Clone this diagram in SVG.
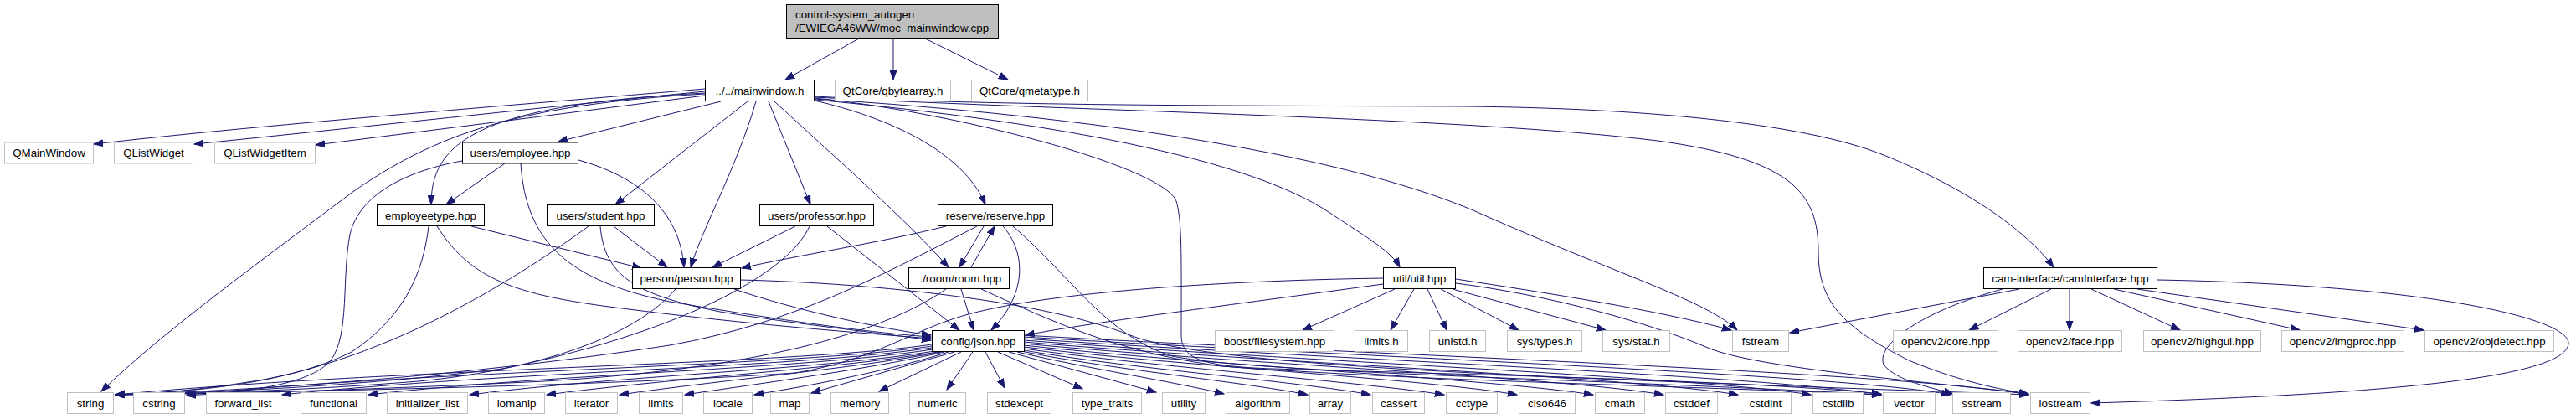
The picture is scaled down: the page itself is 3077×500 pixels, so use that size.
<svg xmlns="http://www.w3.org/2000/svg" width="3077" height="500" viewBox="0 0 3077 500">
<style>
text{font-family:"Liberation Sans",Arial,sans-serif;font-size:13.33px;fill:#000;text-anchor:middle}
.d rect{fill:#fff;stroke:#000;stroke-width:1}
.x rect{fill:#fff;stroke:#bfbfbf;stroke-width:1}
#edges path{fill:none;stroke:#191970;stroke-width:1;marker-end:url(#ah)}
</style>
<defs>
<marker id="ah" markerUnits="userSpaceOnUse" markerWidth="12" markerHeight="9" refX="11" refY="4.5" orient="auto">
<path d="M0,0.5 L11,4.5 L0,8.5 z" fill="#191970" stroke="#191970" stroke-width="1"/>
</marker>
</defs>
<rect width="3077" height="500" fill="#fff"/>
<g id="edges">
<path d="M1026,46 L938,95"/>
<path d="M1067,46 L1067,95"/>
<path d="M1105,46 L1204,95"/>
<path d="M842,106 C620,125 300,150 112,172"/>
<path d="M842,109 C650,128 420,153 232,172"/>
<path d="M842,114 C700,132 520,155 377,173"/>
<path d="M861,121 L667,169"/>
<path d="M842,111 C570,125 515,170 515,244"/>
<path d="M842,112 C620,125 520,160 420,230 C300,320 190,400 121,467"/>
<path d="M893,121 L735,244"/>
<path d="M903,121 C880,200 840,270 825,319"/>
<path d="M918,121 L968,244"/>
<path d="M925,121 C1000,190 1080,260 1133,319"/>
<path d="M973,120 C1060,140 1150,180 1177,244"/>
<path d="M973,119 C1200,140 1480,180 1590,255 C1635,285 1662,300 1672,319"/>
<path d="M973,118 C1300,138 1620,185 1780,260 C1940,330 2040,360 2075,394"/>
<path d="M973,117 C1150,135 1390,200 1405,240 C1412,265 1411,300 1411,400 C1411,430 1440,437 1520,440 C1800,448 2100,455 2247,470"/>
<path d="M973,115 C1200,127 1500,126 1750,127 C1950,129 2150,145 2250,185 C2350,225 2420,275 2453,319"/>
<path d="M973,116 C1300,133 1750,140 1980,168 C2140,190 2172,230 2172,300 C2172,360 2200,390 2280,430 C2340,455 2390,465 2423,470"/>
<path d="M603,195 L533,244"/>
<path d="M691,191 C760,210 812,250 817,319"/>
<path d="M622,195 C628,290 680,335 800,360 C950,385 1050,398 1112,402"/>
<path d="M552,192 C480,205 428,235 418,280 C408,330 418,400 395,430 C370,460 290,468 223,472"/>
<path d="M563,270 L766,320"/>
<path d="M512,270 C505,330 480,380 420,420 C340,460 220,468 138,471"/>
<path d="M522,270 C560,330 610,350 720,365 C870,385 1000,395 1112,404"/>
<path d="M733,270 L797,319"/>
<path d="M717,270 C722,330 760,352 860,372 C960,388 1050,397 1112,406"/>
<path d="M703,270 C620,330 480,420 320,452 C240,466 180,470 138,471"/>
<path d="M950,270 L851,319"/>
<path d="M967,270 C940,330 800,400 600,440 C420,462 240,469 138,471"/>
<path d="M988,270 L1146,394"/>
<path d="M1130,270 C1050,290 950,305 886,320"/>
<path d="M1175,270 L1146,319"/>
<path d="M1160,319 L1188,270"/>
<path d="M1167,270 C1050,330 950,385 800,412 C550,450 300,466 138,471"/>
<path d="M1198,270 C1225,300 1228,350 1184,394"/>
<path d="M1210,270 C1280,330 1320,400 1400,425 C1500,445 1900,452 2247,471"/>
<path d="M1148,345 L1163,394"/>
<path d="M1130,345 C1050,400 900,440 650,455 C400,467 250,470 138,471"/>
<path d="M1172,345 C1250,380 1330,420 1460,437 C1700,455 2000,460 2247,471"/>
<path d="M877,345 C950,370 1050,392 1112,400"/>
<path d="M884,334 C1050,338 1250,360 1350,400 C1450,440 1900,452 2423,471"/>
<path d="M807,345 C760,400 650,440 500,455 C350,467 220,470 138,471"/>
<path d="M1113,411 C953,435 479,439 138,471"/>
<path d="M1113,413 C953,437 535,441 223,471"/>
<path d="M1113,415 C953,439 609,443 337,471"/>
<path d="M1114,417 C954,441 676,445 440,471"/>
<path d="M1116,419 C980,441 755,447 561,471"/>
<path d="M1120,420 C1000,440 816,450 653,471"/>
<path d="M1124,420 C1020,440 874,452 740,471"/>
<path d="M1128,420 C1040,440 926,455 818,471"/>
<path d="M1133,420 C1070,440 982,458 901,471"/>
<path d="M1140,420 L969,469"/>
<path d="M1148,420 L1050,467"/>
<path d="M1162,420 L1131,465"/>
<path d="M1177,420 L1200,463"/>
<path d="M1192,420 L1293,464"/>
<path d="M1205,420 L1381,468"/>
<path d="M1215,420 C1300,440 1400,455 1462,470"/>
<path d="M1220,419 C1320,440 1480,455 1562,471"/>
<path d="M1223,418 C1350,440 1550,455 1637,471"/>
<path d="M1223,416 C1380,438 1620,455 1725,471"/>
<path d="M1223,414 C1400,436 1700,452 1812,471"/>
<path d="M1223,412 C1420,434 1780,452 1903,471"/>
<path d="M1223,410 C1450,432 1860,450 1987,471"/>
<path d="M1223,408 C1470,430 1950,450 2076,471"/>
<path d="M1223,406 C1500,428 2030,450 2163,471"/>
<path d="M1223,404 C1520,425 2110,448 2247,471"/>
<path d="M1223,402 C1540,422 2200,446 2330,471"/>
<path d="M1223,400 C1560,420 2280,444 2423,471"/>
<path d="M1666,345 L1556,394"/>
<path d="M1689,345 L1661,394"/>
<path d="M1705,345 L1728,394"/>
<path d="M1721,345 L1814,394"/>
<path d="M1735,345 L1918,394"/>
<path d="M1652,339 C1500,360 1300,385 1225,400"/>
<path d="M1652,332 C1450,335 1230,350 1140,380 C1080,400 1040,430 950,445 C700,462 300,468 138,471"/>
<path d="M1739,333 C1850,350 1980,370 2068,394"/>
<path d="M1739,338 C1850,352 1970,385 2040,415 C2100,440 2300,455 2423,470"/>
<path d="M2412,345 L2138,397"/>
<path d="M2392,345 C2300,370 2240,410 2250,435 C2265,455 2310,463 2333,470"/>
<path d="M2450,345 L2352,394"/>
<path d="M2472,345 L2472,394"/>
<path d="M2498,345 L2604,394"/>
<path d="M2525,345 L2747,394"/>
<path d="M2553,345 L2895,394"/>
<path d="M2577,334 C2900,340 3070,380 3068,410 C3065,455 2800,472 2498,481"/>
</g>
<g id="n_top"><rect x="939.5" y="5.5" width="253" height="40" fill="#bfbfbf" stroke="#000"/><text x="950" y="22" style="text-anchor:start">control-system_autogen</text><text x="950" y="38" style="text-anchor:start">/EWIEGA46WW/moc_mainwindow.cpp</text></g>
<g id="n_mainwindow" class="d"><rect x="842.5" y="95.5" width="130" height="25"/><text x="907.5" y="112.5">../../mainwindow.h</text></g>
<g id="n_qbytearray" class="x"><rect x="997.5" y="95.5" width="138" height="25"/><text x="1066.5" y="112.5">QtCore/qbytearray.h</text></g>
<g id="n_qmetatype" class="x"><rect x="1160.5" y="95.5" width="139" height="25"/><text x="1230" y="112.5">QtCore/qmetatype.h</text></g>
<g id="n_qmainwindow" class="x"><rect x="5.5" y="170" width="106" height="25"/><text x="58.5" y="187">QMainWindow</text></g>
<g id="n_qlistwidget" class="x"><rect x="136.5" y="170" width="94" height="25"/><text x="183.5" y="187">QListWidget</text></g>
<g id="n_qlistwidgetitem" class="x"><rect x="256.5" y="170" width="120" height="25"/><text x="316.5" y="187">QListWidgetItem</text></g>
<g id="n_employee" class="d"><rect x="552.5" y="170" width="138" height="25"/><text x="621.5" y="187">users/employee.hpp</text></g>
<g id="n_employeetype" class="d"><rect x="450.5" y="244.5" width="128" height="25"/><text x="514.5" y="261.5">employeetype.hpp</text></g>
<g id="n_student" class="d"><rect x="653.5" y="244.5" width="128" height="25"/><text x="717.5" y="261.5">users/student.hpp</text></g>
<g id="n_professor" class="d"><rect x="907.5" y="244.5" width="136" height="25"/><text x="975.5" y="261.5">users/professor.hpp</text></g>
<g id="n_reserve" class="d"><rect x="1120.5" y="244.5" width="137" height="25"/><text x="1189" y="261.5">reserve/reserve.hpp</text></g>
<g id="n_person" class="d"><rect x="755.5" y="319.5" width="129" height="25"/><text x="820" y="336.5">person/person.hpp</text></g>
<g id="n_room" class="d"><rect x="1085.5" y="319.5" width="120" height="25"/><text x="1145.5" y="336.5">../room/room.hpp</text></g>
<g id="n_util" class="d"><rect x="1652.5" y="319.5" width="86" height="25"/><text x="1695.5" y="336.5">util/util.hpp</text></g>
<g id="n_cam" class="d"><rect x="2369.5" y="319.5" width="207" height="25"/><text x="2473" y="336.5">cam-interface/camInterface.hpp</text></g>
<g id="n_json" class="d"><rect x="1113.5" y="394.5" width="110" height="25"/><text x="1168.5" y="411.5">config/json.hpp</text></g>
<g id="n_boost" class="x"><rect x="1451.5" y="394.5" width="142" height="25"/><text x="1522.5" y="411.5">boost/filesystem.hpp</text></g>
<g id="n_limitsh" class="x"><rect x="1618.5" y="394.5" width="63" height="25"/><text x="1650" y="411.5">limits.h</text></g>
<g id="n_unistd" class="x"><rect x="1707.5" y="394.5" width="67" height="25"/><text x="1741" y="411.5">unistd.h</text></g>
<g id="n_systypes" class="x"><rect x="1800.5" y="394.5" width="89" height="25"/><text x="1845" y="411.5">sys/types.h</text></g>
<g id="n_sysstat" class="x"><rect x="1914.5" y="394.5" width="80" height="25"/><text x="1954.5" y="411.5">sys/stat.h</text></g>
<g id="n_fstream" class="x"><rect x="2069.5" y="394.5" width="67" height="25"/><text x="2103" y="411.5">fstream</text></g>
<g id="n_core" class="x"><rect x="2261.5" y="394.5" width="125" height="25"/><text x="2324" y="411.5">opencv2/core.hpp</text></g>
<g id="n_face" class="x"><rect x="2410.5" y="394.5" width="124" height="25"/><text x="2472.5" y="411.5">opencv2/face.hpp</text></g>
<g id="n_highgui" class="x"><rect x="2560.5" y="394.5" width="140" height="25"/><text x="2630.5" y="411.5">opencv2/highgui.hpp</text></g>
<g id="n_imgproc" class="x"><rect x="2725.5" y="394.5" width="146" height="25"/><text x="2798.5" y="411.5">opencv2/imgproc.hpp</text></g>
<g id="n_objdetect" class="x"><rect x="2896.5" y="394.5" width="154" height="25"/><text x="2973.5" y="411.5">opencv2/objdetect.hpp</text></g>
<g id="n_string" class="x"><rect x="80.5" y="468.5" width="55" height="25"/><text x="108" y="485.5">string</text></g>
<g id="n_cstring" class="x"><rect x="159.5" y="468.5" width="61" height="25"/><text x="190" y="485.5">cstring</text></g>
<g id="n_forward_list" class="x"><rect x="246.5" y="468.5" width="88" height="25"/><text x="290.5" y="485.5">forward_list</text></g>
<g id="n_functional" class="x"><rect x="359.5" y="468.5" width="78" height="25"/><text x="398.5" y="485.5">functional</text></g>
<g id="n_initializer_list" class="x"><rect x="462.5" y="468.5" width="96" height="25"/><text x="510.5" y="485.5">initializer_list</text></g>
<g id="n_iomanip" class="x"><rect x="583.5" y="468.5" width="67" height="25"/><text x="617" y="485.5">iomanip</text></g>
<g id="n_iterator" class="x"><rect x="675.5" y="468.5" width="62" height="25"/><text x="706.5" y="485.5">iterator</text></g>
<g id="n_limits" class="x"><rect x="763.5" y="468.5" width="52" height="25"/><text x="789.5" y="485.5">limits</text></g>
<g id="n_locale" class="x"><rect x="840.5" y="468.5" width="58" height="25"/><text x="869.5" y="485.5">locale</text></g>
<g id="n_map" class="x"><rect x="920.5" y="468.5" width="46" height="25"/><text x="943.5" y="485.5">map</text></g>
<g id="n_memory" class="x"><rect x="992.5" y="468.5" width="69" height="25"/><text x="1027" y="485.5">memory</text></g>
<g id="n_numeric" class="x"><rect x="1086.5" y="468.5" width="67" height="25"/><text x="1120" y="485.5">numeric</text></g>
<g id="n_stdexcept" class="x"><rect x="1179.5" y="468.5" width="76" height="25"/><text x="1217.5" y="485.5">stdexcept</text></g>
<g id="n_type_traits" class="x"><rect x="1281.5" y="468.5" width="82" height="25"/><text x="1322.5" y="485.5">type_traits</text></g>
<g id="n_utility" class="x"><rect x="1388.5" y="468.5" width="51" height="25"/><text x="1414" y="485.5">utility</text></g>
<g id="n_algorithm" class="x"><rect x="1464.5" y="468.5" width="76" height="25"/><text x="1502.5" y="485.5">algorithm</text></g>
<g id="n_array" class="x"><rect x="1564.5" y="468.5" width="49" height="25"/><text x="1589" y="485.5">array</text></g>
<g id="n_cassert" class="x"><rect x="1639.5" y="468.5" width="62" height="25"/><text x="1670.5" y="485.5">cassert</text></g>
<g id="n_cctype" class="x"><rect x="1727.5" y="468.5" width="61" height="25"/><text x="1758" y="485.5">cctype</text></g>
<g id="n_ciso646" class="x"><rect x="1814.5" y="468.5" width="67" height="25"/><text x="1848" y="485.5">ciso646</text></g>
<g id="n_cmath" class="x"><rect x="1905.5" y="468.5" width="59" height="25"/><text x="1935" y="485.5">cmath</text></g>
<g id="n_cstddef" class="x"><rect x="1989.5" y="468.5" width="62" height="25"/><text x="2020.5" y="485.5">cstddef</text></g>
<g id="n_cstdint" class="x"><rect x="2078.5" y="468.5" width="61" height="25"/><text x="2109" y="485.5">cstdint</text></g>
<g id="n_cstdlib" class="x"><rect x="2165.5" y="468.5" width="60" height="25"/><text x="2195.5" y="485.5">cstdlib</text></g>
<g id="n_vector" class="x"><rect x="2249.5" y="468.5" width="62" height="25"/><text x="2280.5" y="485.5">vector</text></g>
<g id="n_sstream" class="x"><rect x="2332.5" y="468.5" width="69" height="25"/><text x="2367" y="485.5">sstream</text></g>
<g id="n_iostream" class="x"><rect x="2425.5" y="468.5" width="71" height="25"/><text x="2461" y="485.5">iostream</text></g>
</svg>
